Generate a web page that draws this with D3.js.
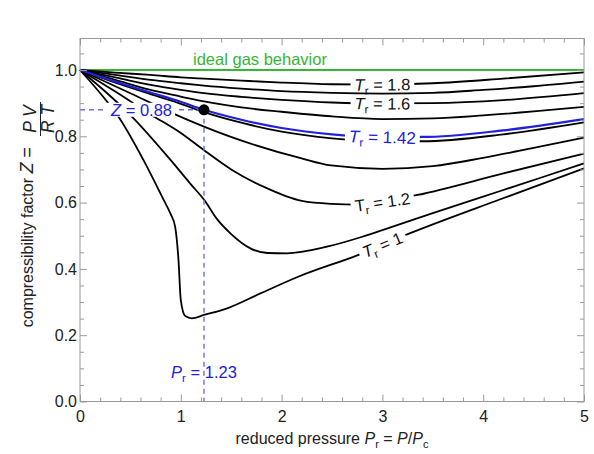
<!DOCTYPE html>
<html>
<head>
<meta charset="utf-8">
<script src="https://cdn.jsdelivr.net/npm/d3@7"></script>
<style>
  body { margin: 0; background: #fff; }
  svg { display: block; font-family: "Liberation Sans", Arial, sans-serif; }
</style>
</head>
<body>
<svg id="chart" width="594" height="454"></svg>
<script>
// reduced temperatures and their Z(Pr) curves, [Pr, Z]
var trValues = [1.0, 1.1, 1.2, 1.3, 1.4, 1.5, 1.6, 1.7, 1.8];

var tr10 = [[0,1],[0.27,0.904],[0.37,0.864],[0.63,0.728],[0.83,0.608],[0.9,0.565],[0.944,0.527],[0.977,0.427],[1.0,0.306],[1.044,0.258],[1.11,0.251],[1.23,0.261],[1.46,0.281],[1.79,0.326],[2.17,0.377],[2.75,0.441],[3.27,0.507],[4.17,0.61],[5,0.703]];
var tr11 = [[0,1],[0.25,0.935],[0.5,0.864],[0.9,0.728],[1.1,0.655],[1.24,0.605],[1.36,0.55],[1.5,0.505],[1.69,0.462],[1.86,0.448],[2.05,0.447],[2.45,0.467],[2.8,0.497],[3.0,0.517],[3.5,0.568],[4.17,0.635],[5,0.718]];
var tr12 = [[0,1],[0.35,0.935],[0.7,0.866],[1.0,0.81],[1.23,0.758],[1.5,0.7],[1.82,0.648],[2.2,0.605],[2.5,0.596],[2.75,0.594],[3.0,0.602],[3.35,0.623],[4.2,0.688],[5,0.748]];
var tr13 = [[0,1],[0.5,0.93],[0.96,0.864],[1.49,0.799],[2.19,0.734],[2.49,0.712],[3.0,0.702],[3.5,0.71],[4.0,0.735],[4.5,0.765],[5,0.796]];
var tr14 = [[0,1],[0.3,0.967],[0.7,0.927],[1.0,0.898],[1.23,0.873],[1.6,0.841],[2.0,0.814],[2.5,0.794],[3.0,0.785],[3.4,0.785],[4.2,0.806],[5,0.842]];
var tr15 = [[0,1],[0.35,0.97],[0.7,0.94],[1.0,0.92],[1.23,0.905],[1.6,0.887],[2.0,0.874],[2.5,0.86],[3.0,0.852],[3.5,0.854],[4.0,0.863],[4.5,0.875],[5,0.889]];
var tr16 = [[0,1],[0.35,0.978],[0.7,0.955],[1.0,0.94],[1.23,0.93],[1.6,0.919],[2.0,0.91],[2.5,0.902],[3.0,0.899],[3.5,0.9],[4.2,0.909],[5,0.93]];
var tr17 = [[0,1],[0.35,0.985],[0.7,0.97],[1.0,0.96],[1.23,0.953],[1.6,0.944],[2.0,0.936],[2.5,0.931],[3.0,0.929],[3.5,0.931],[4.0,0.94],[4.5,0.951],[5,0.965]];
var tr18 = [[0,1],[0.35,0.992],[0.7,0.985],[1.0,0.978],[1.23,0.974],[1.6,0.968],[2.0,0.962],[2.5,0.957],[3.0,0.956],[3.5,0.96],[4.2,0.974],[5,0.993]];

// highlighted isotherm and the marked state on it
var tr142 = [[0,1],[0.3,0.97],[0.7,0.932],[1.0,0.904],[1.23,0.88],[1.6,0.85],[2.0,0.825],[2.5,0.806],[3.0,0.798],[3.4,0.798],[4.2,0.818],[5,0.852]];
var markPr = 1.23, markZ = 0.88;

var idealZ = [[0,1],[5,1]];

var xTicks = [0, 1, 2, 3, 4, 5];
var yTicks = [0, 0.2, 0.4, 0.6, 0.8, 1.0];

var blackCurves = [tr10, tr11, tr12, tr13, tr14, tr15, tr16, tr17, tr18];
var labelNames = ["1.8", "1.6", "1.42", "1.2", "1"];
var labelCurves = [tr18, tr16, tr142, tr12, tr10];

var LEFT = 80, RIGHT = 584, TOP = 38.5, BOTTOM = 401.5;
var BLUE = "#2121dc", DASH = "#6f6fe0", GREEN = "#36b536";

var svg = d3.select("#chart");
var x = d3.scaleLinear().domain([0, 5]).range([LEFT, RIGHT]);
var y = d3.scaleLinear().domain([0, 1.095]).range([BOTTOM, TOP]);

var line = d3.line()
  .x(d => x(d[0]))
  .y(d => y(d[1]))
  .curve(d3.curveMonotoneX);

function zAt(pts, pr) {
  var i = d3.bisector(d => d[0]).left(pts, pr);
  if (i <= 0) return pts[0][1];
  var a = pts[i - 1], b = pts[i];
  return a[1] + (b[1] - a[1]) * (pr - a[0]) / (b[0] - a[0]);
}

// ideal gas
svg.append("path")
  .attr("d", line(idealZ))
  .attr("fill", "none")
  .attr("stroke", GREEN)
  .attr("stroke-width", 2.2);

svg.append("text")
  .attr("x", 260).attr("y", 65)
  .attr("text-anchor", "middle")
  .attr("font-size", 16.5)
  .attr("fill", GREEN)
  .text("ideal gas behavior");

svg.selectAll("path.curve")
  .data(blackCurves)
  .enter()
  .append("path")
  .attr("class", "curve")
  .attr("d", d => line(d))
  .attr("fill", "none")
  .attr("stroke", "#000")
  .attr("stroke-width", 1.8);

svg.append("path")
  .attr("d", line(tr142))
  .attr("fill", "none")
  .attr("stroke", BLUE)
  .attr("stroke-width", 2.2);

// curve labels sit in a gap of their curve at Pr = 3
labelNames.forEach(function(name, i) {
  var pts = labelCurves[i];
  var pr = 3.0;
  var px = x(pr), py = y(zAt(pts, pr));
  var dx = x(pr + 0.3) - x(pr - 0.3);
  var dy = y(zAt(pts, pr + 0.3)) - y(zAt(pts, pr - 0.3));
  var ang = Math.atan2(dy, dx) * 180 / Math.PI;
  var isBlue = name == "1.42";

  var g = svg.append("g").attr("transform", `translate(${px},${py}) rotate(${ang})`);
  var rect = g.append("rect").attr("fill", "#fff");
  var t = g.append("text")
    .attr("text-anchor", "middle")
    .attr("dy", "0.36em")
    .attr("font-size", isBlue ? 17 : 16.5)
    .attr("fill", isBlue ? BLUE : "#111");
  t.append("tspan").attr("font-style", name == "1.2" ? "normal" : "italic").text("T");
  t.append("tspan").attr("font-size", "0.7em").attr("dy", 4).text("r");
  t.append("tspan").attr("dy", -4).text(" = " + name);
  var bb = t.node().getBBox();
  var h = isBlue ? 16 : 12;
  rect.attr("x", bb.x - 4).attr("width", bb.width + 8).attr("y", -h / 2).attr("height", h);
});

// marked state
svg.append("line")
  .attr("x1", x(0)).attr("x2", x(markPr))
  .attr("y1", y(markZ)).attr("y2", y(markZ))
  .attr("stroke", DASH).attr("stroke-width", 1.4).attr("stroke-dasharray", "5,4");
svg.append("line")
  .attr("x1", x(markPr)).attr("x2", x(markPr))
  .attr("y1", y(markZ)).attr("y2", y(0))
  .attr("stroke", DASH).attr("stroke-width", 1.4).attr("stroke-dasharray", "5,4");

var zl = svg.append("g").attr("transform", `translate(${x(0.61)},${y(markZ)})`);
var zRect = zl.append("rect").attr("fill", "#fff");
var zText = zl.append("text")
  .attr("text-anchor", "middle").attr("dy", "0.36em")
  .attr("font-size", 16.5).attr("fill", BLUE);
zText.append("tspan").attr("font-style", "italic").text("Z");
zText.append("tspan").text(" = " + markZ.toFixed(2));
var zb = zText.node().getBBox();
zRect.attr("x", zb.x - 3).attr("width", zb.width + 6).attr("y", -7).attr("height", 14);

svg.append("circle")
  .attr("cx", x(markPr)).attr("cy", y(markZ))
  .attr("r", 5.5).attr("fill", "#000");

var pl = svg.append("text")
  .attr("x", x(markPr)).attr("y", 378)
  .attr("text-anchor", "middle")
  .attr("font-size", 16.5).attr("fill", BLUE);
pl.append("tspan").attr("font-style", "italic").text("P");
pl.append("tspan").attr("font-size", "0.7em").attr("dy", 4).text("r");
pl.append("tspan").attr("dy", -4).text(" = " + markPr);

// frame and ticks on all four sides
var xMinor = d3.range(0, 5.001, 0.2).filter(v => Math.abs(v - Math.round(v)) > 1e-6);
var yMinor = d3.range(0, 1.0951, 0.05).filter(v => yTicks.every(t => Math.abs(v - t) > 1e-6));

function styleAxis(g) {
  g.select(".domain").remove();
  g.selectAll(".tick line").attr("stroke", "#9a9a9a");
  g.selectAll(".tick text").attr("fill", "#222").attr("font-size", 16)
    .attr("font-family", "'Liberation Sans', Arial, sans-serif");
}

svg.append("g").attr("transform", `translate(0,${BOTTOM})`)
  .call(d3.axisBottom(x).tickValues(xTicks).tickSize(-7).tickPadding(9).tickFormat(d3.format("d")))
  .call(styleAxis);
svg.append("g").attr("transform", `translate(0,${BOTTOM})`)
  .call(d3.axisBottom(x).tickValues(xMinor).tickSize(-4).tickFormat(""))
  .call(styleAxis);
svg.append("g").attr("transform", `translate(0,${TOP})`)
  .call(d3.axisTop(x).tickValues(xTicks).tickSize(-7).tickFormat(""))
  .call(styleAxis);
svg.append("g").attr("transform", `translate(0,${TOP})`)
  .call(d3.axisTop(x).tickValues(xMinor).tickSize(-4).tickFormat(""))
  .call(styleAxis);

svg.append("g").attr("transform", `translate(${LEFT},0)`)
  .call(d3.axisLeft(y).tickValues(yTicks).tickSize(-7).tickPadding(3).tickFormat(d3.format(".1f")))
  .call(styleAxis);
svg.append("g").attr("transform", `translate(${LEFT},0)`)
  .call(d3.axisLeft(y).tickValues(yMinor).tickSize(-4).tickFormat(""))
  .call(styleAxis);
svg.append("g").attr("transform", `translate(${RIGHT},0)`)
  .call(d3.axisRight(y).tickValues(yTicks).tickSize(-7).tickFormat(""))
  .call(styleAxis);
svg.append("g").attr("transform", `translate(${RIGHT},0)`)
  .call(d3.axisRight(y).tickValues(yMinor).tickSize(-4).tickFormat(""))
  .call(styleAxis);

svg.append("rect")
  .attr("x", LEFT).attr("y", TOP)
  .attr("width", RIGHT - LEFT).attr("height", BOTTOM - TOP)
  .attr("fill", "none").attr("stroke", "#9a9a9a").attr("stroke-width", 1);

// axis titles
var xt = svg.append("text")
  .attr("x", 332).attr("y", 444)
  .attr("text-anchor", "middle")
  .attr("font-size", 16).attr("fill", "#222");
xt.append("tspan").text("reduced pressure ");
xt.append("tspan").attr("font-style", "italic").text("P");
xt.append("tspan").attr("font-size", "0.7em").attr("dy", 4).text("r");
xt.append("tspan").attr("dy", -4).text(" = ");
xt.append("tspan").attr("font-style", "italic").text("P");
xt.append("tspan").text("/");
xt.append("tspan").attr("font-style", "italic").text("P");
xt.append("tspan").attr("font-size", "0.7em").attr("dy", 4).text("c");

var yt = svg.append("g").attr("transform", "rotate(-90)").attr("fill", "#222");
var yMain = yt.append("text")
  .attr("x", -147).attr("y", 33)
  .attr("text-anchor", "end")
  .attr("font-size", 16);
yMain.append("tspan").text("compressibility factor ");
yMain.append("tspan").attr("font-size", 18).attr("font-style", "italic").text("Z");
yMain.append("tspan").attr("font-size", 18).text(" =");
yt.append("text")
  .attr("x", -119).attr("y", 36)
  .attr("text-anchor", "middle").attr("font-size", 17.5).attr("font-style", "italic")
  .text("P V");
yt.append("line")
  .attr("x1", -136).attr("x2", -102).attr("y1", 40.5).attr("y2", 40.5)
  .attr("stroke", "#222").attr("stroke-width", 1);
yt.append("text")
  .attr("x", -119).attr("y", 54)
  .attr("text-anchor", "middle").attr("font-size", 17.5).attr("font-style", "italic")
  .text("R T");
</script>
</body>
</html>
